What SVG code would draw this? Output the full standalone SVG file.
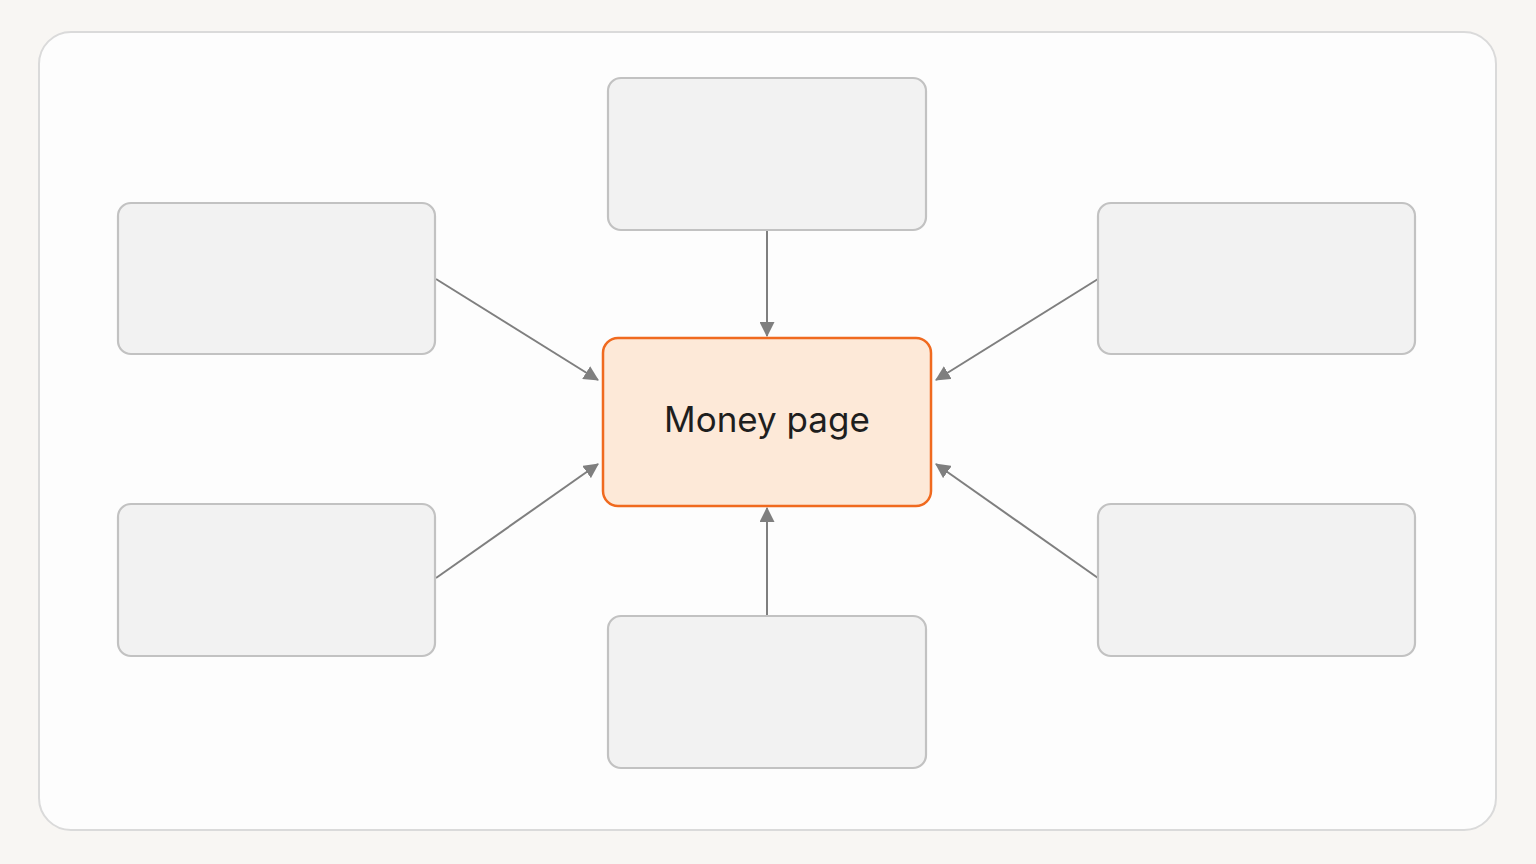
<svg xmlns="http://www.w3.org/2000/svg" width="1536" height="864" viewBox="0 0 1536 864">
<style>
.node rect{fill:#f2f2f2;stroke:#c2c2c2;stroke-width:2.2}
.conn line{stroke:#7f7f7f;stroke-width:2}
.label{font-family:Inter,"Liberation Sans",sans-serif;font-size:35px;fill:#1e1e1e;text-anchor:middle}
</style>
<defs>
<marker id="arr" viewBox="0 0 14 14" refX="13" refY="7" markerWidth="15" markerHeight="15" markerUnits="userSpaceOnUse" orient="auto">
<path d="M0,0 L14,7 L0,14 Z" fill="#7f7f7f"/>
</marker>
</defs>
<rect x="0" y="0" width="1536" height="864" fill="#f8f6f3"/>
<rect x="39" y="32" width="1457" height="798" rx="32" fill="#fdfdfd" stroke="#dadada" stroke-width="2"/>
<g class="conn">
<line x1="767" y1="230" x2="767" y2="336" marker-end="url(#arr)"/>
<line x1="767" y1="616" x2="767" y2="508" marker-end="url(#arr)"/>
<line x1="436" y1="279" x2="598" y2="380" marker-end="url(#arr)"/>
<line x1="436" y1="578" x2="598" y2="464" marker-end="url(#arr)"/>
<line x1="1098" y1="279" x2="936" y2="380" marker-end="url(#arr)"/>
<line x1="1098" y1="578" x2="936" y2="464" marker-end="url(#arr)"/>
</g>
<g id="node-top" class="node"><rect x="608" y="78" width="318" height="152" rx="13"/></g>
<g id="node-left-top" class="node"><rect x="118" y="203" width="317" height="151" rx="13"/></g>
<g id="node-right-top" class="node"><rect x="1098" y="203" width="317" height="151" rx="13"/></g>
<g id="node-left-bottom" class="node"><rect x="118" y="504" width="317" height="152" rx="13"/></g>
<g id="node-right-bottom" class="node"><rect x="1098" y="504" width="317" height="152" rx="13"/></g>
<g id="node-bottom" class="node"><rect x="608" y="616" width="318" height="152" rx="13"/></g>
<g id="node-money">
<rect x="603" y="338" width="328" height="168" rx="15" fill="#fde9d8" stroke="#f06a1f" stroke-width="2.5"/>
<text class="label" x="767" y="432">Money page</text>
</g>
</svg>
